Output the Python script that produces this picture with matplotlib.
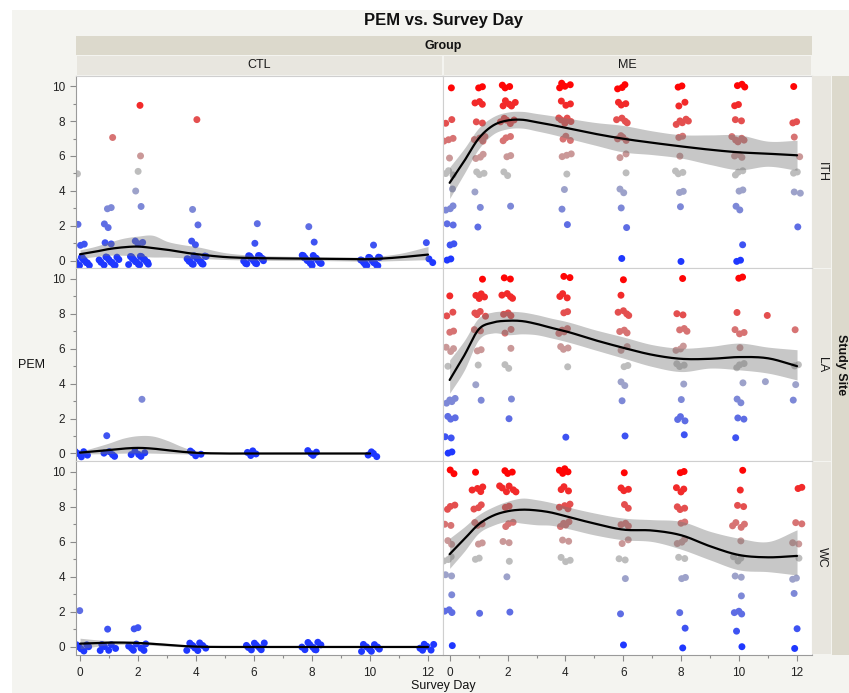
import numpy as np
import matplotlib
matplotlib.use("Agg")
import matplotlib.pyplot as plt
from matplotlib.patches import Rectangle
from matplotlib.ticker import MultipleLocator

plt.rcParams['font.family'] = ['Liberation Sans', 'DejaVu Sans']

# ---------------- data ----------------
survey_days = [0, 1, 2, 4, 6, 8, 10, 11, 12]
pem_levels = list(range(11))
groups = ["CTL", "ME"]
sites = ["ITH", "LA", "WC"]

# counts of participants at each PEM level (0..10), one row per survey day
ith_ctl_counts = [
    [14, 2, 1, 0, 0, 1, 0, 0, 0, 0, 0],
    [12, 2, 2, 2, 0, 0, 0, 1, 0, 0, 0],
    [16, 3, 0, 1, 1, 1, 1, 0, 0, 1, 0],
    [16, 2, 1, 1, 0, 0, 0, 0, 1, 0, 0],
    [16, 1, 1, 0, 0, 0, 0, 0, 0, 0, 0],
    [15, 1, 1, 0, 0, 0, 0, 0, 0, 0, 0],
    [16, 1, 0, 0, 0, 0, 0, 0, 0, 0, 0],
    [0, 0, 0, 0, 0, 0, 0, 0, 0, 0, 0],
    [2, 1, 0, 0, 0, 0, 0, 0, 0, 0, 0],
]
ith_me_counts = [
    [2, 2, 2, 3, 1, 3, 1, 3, 2, 0, 1],
    [0, 0, 1, 1, 1, 3, 3, 4, 2, 3, 2],
    [0, 0, 0, 1, 0, 2, 2, 3, 5, 5, 3],
    [0, 0, 1, 1, 1, 1, 3, 3, 5, 3, 4],
    [1, 0, 1, 1, 2, 1, 2, 4, 4, 3, 3],
    [1, 0, 0, 1, 2, 3, 1, 2, 5, 2, 2],
    [2, 1, 0, 2, 2, 3, 3, 5, 2, 2, 3],
    [0, 0, 0, 0, 0, 0, 0, 0, 0, 0, 0],
    [0, 0, 1, 0, 2, 2, 1, 1, 2, 0, 1],
]
la_ctl_counts = [
    [5, 0, 0, 0, 0, 0, 0, 0, 0, 0, 0],
    [4, 1, 0, 0, 0, 0, 0, 0, 0, 0, 0],
    [5, 0, 0, 1, 0, 0, 0, 0, 0, 0, 0],
    [4, 0, 0, 0, 0, 0, 0, 0, 0, 0, 0],
    [4, 0, 0, 0, 0, 0, 0, 0, 0, 0, 0],
    [4, 0, 0, 0, 0, 0, 0, 0, 0, 0, 0],
    [4, 0, 0, 0, 0, 0, 0, 0, 0, 0, 0],
    [0, 0, 0, 0, 0, 0, 0, 0, 0, 0, 0],
    [0, 0, 0, 0, 0, 0, 0, 0, 0, 0, 0],
]
la_me_counts = [
    [2, 2, 3, 4, 0, 1, 3, 2, 2, 1, 0],
    [0, 0, 0, 1, 1, 1, 2, 2, 4, 4, 1],
    [0, 0, 1, 1, 0, 2, 1, 2, 3, 4, 2],
    [0, 1, 0, 0, 0, 1, 3, 4, 2, 3, 2],
    [0, 1, 0, 1, 2, 2, 2, 3, 4, 1, 1],
    [0, 1, 3, 1, 1, 3, 3, 3, 2, 0, 1],
    [0, 1, 2, 2, 1, 3, 1, 3, 1, 0, 2],
    [0, 0, 0, 0, 1, 0, 0, 0, 1, 0, 0],
    [0, 0, 0, 1, 1, 2, 0, 1, 0, 0, 0],
]
wc_ctl_counts = [
    [7, 0, 1, 0, 0, 0, 0, 0, 0, 0, 0],
    [6, 1, 0, 0, 0, 0, 0, 0, 0, 0, 0],
    [7, 2, 0, 0, 0, 0, 0, 0, 0, 0, 0],
    [9, 0, 0, 0, 0, 0, 0, 0, 0, 0, 0],
    [8, 0, 0, 0, 0, 0, 0, 0, 0, 0, 0],
    [9, 0, 0, 0, 0, 0, 0, 0, 0, 0, 0],
    [8, 0, 0, 0, 0, 0, 0, 0, 0, 0, 0],
    [0, 0, 0, 0, 0, 0, 0, 0, 0, 0, 0],
    [6, 0, 0, 0, 0, 0, 0, 0, 0, 0, 0],
]
wc_me_counts = [
    [1, 0, 3, 1, 2, 3, 2, 2, 3, 0, 2],
    [0, 0, 1, 0, 0, 2, 2, 3, 3, 4, 1],
    [0, 0, 1, 0, 1, 1, 2, 3, 2, 6, 3],
    [0, 0, 0, 0, 0, 3, 2, 4, 4, 3, 4],
    [1, 0, 1, 0, 1, 2, 2, 3, 2, 3, 1],
    [1, 1, 1, 0, 2, 2, 3, 2, 3, 3, 2],
    [1, 1, 3, 1, 2, 3, 1, 4, 2, 1, 1],
    [0, 0, 0, 0, 0, 0, 0, 0, 0, 0, 0],
    [1, 1, 0, 1, 2, 1, 2, 2, 0, 2, 0],
]

# smoother fit and confidence band
curve_days = [0, 0.5, 1, 1.5, 2, 2.5, 3, 3.5, 4, 5, 6, 7, 8, 9, 10, 11, 12]
nan = float('nan')
ith_ctl_fit = [0.36, 0.5, 0.66, 0.76, 0.8, 0.72, 0.62, 0.48, 0.37, 0.2, 0.14, 0.12, 0.11, 0.09, 0.08, 0.18, 0.34]
ith_ctl_hi = [0.61, 0.8, 1.05, 1.28, 1.4, 1.45, 1.1, 0.92, 0.8, 0.45, 0.3, 0.25, 0.22, 0.2, 0.22, 0.4, 0.8]
ith_ctl_lo = [0.12, 0.22, 0.3, 0.3, 0.25, 0.2, 0.2, 0.16, 0.13, 0.06, 0.02, 0.0, 0.0, -0.02, -0.04, 0.0, 0.05]
ith_me_fit = [4.46, 5.7, 7.0, 7.75, 8.04, 8.08, 7.94, 7.79, 7.62, 7.28, 6.99, 6.76, 6.55, 6.36, 6.21, 6.13, 6.04]
ith_me_hi = [5.36, 6.42, 7.6, 8.25, 8.52, 8.56, 8.44, 8.32, 8.19, 7.93, 7.75, 7.44, 7.22, 7.21, 7.21, 6.85, 6.9]
ith_me_lo = [3.56, 4.98, 6.4, 7.25, 7.56, 7.6, 7.44, 7.26, 7.05, 6.63, 6.23, 6.08, 5.88, 5.51, 5.21, 5.41, 5.18]
la_ctl_fit = [0.05, 0.12, 0.2, 0.28, 0.32, 0.28, 0.19, 0.1, 0.04, 0.0, 0.0, 0.0, 0.0, 0.0, 0.0, nan, nan]
la_ctl_hi = [0.12, 0.35, 0.6, 0.88, 1.02, 1.0, 0.75, 0.4, 0.12, 0.02, 0.02, 0.02, 0.02, 0.02, 0.02, nan, nan]
la_ctl_lo = [-0.02, -0.02, 0.0, 0.02, 0.03, 0.02, 0.0, -0.02, -0.03, -0.02, -0.02, -0.02, -0.02, -0.02, -0.02, nan, nan]
la_me_fit = [4.21, 5.6, 7.1, 7.5, 7.6, 7.58, 7.42, 7.2, 7.0, 6.5, 6.05, 5.65, 5.42, 5.42, 5.52, 5.45, 5.0]
la_me_hi = [5.36, 6.45, 7.76, 8.1, 8.14, 8.1, 7.95, 7.75, 7.57, 7.09, 6.67, 6.23, 6.03, 6.13, 6.32, 6.09, 5.94]
la_me_lo = [3.45, 4.75, 6.51, 6.9, 6.8, 6.85, 6.8, 6.62, 6.42, 5.94, 5.46, 4.98, 4.69, 4.89, 4.79, 4.6, 4.21]
wc_ctl_fit = [0.19, 0.22, 0.25, 0.25, 0.23, 0.18, 0.12, 0.06, 0.02, 0.0, 0.0, 0.0, 0.0, 0.0, 0.0, 0.0, 0.0]
wc_ctl_hi = [0.5, 0.42, 0.36, 0.33, 0.32, 0.27, 0.2, 0.12, 0.06, 0.03, 0.03, 0.03, 0.03, 0.03, 0.03, 0.03, 0.03]
wc_ctl_lo = [-0.1, 0.02, 0.12, 0.15, 0.14, 0.1, 0.05, 0.01, -0.02, -0.03, -0.03, -0.03, -0.03, -0.03, -0.03, -0.03, -0.03]
wc_me_fit = [5.3, 6.15, 7.0, 7.5, 7.75, 7.84, 7.8, 7.68, 7.47, 7.05, 6.7, 6.65, 6.38, 5.75, 5.25, 5.12, 5.2]
wc_me_hi = [6.21, 6.85, 7.55, 8.0, 8.32, 8.5, 8.41, 8.25, 8.03, 7.65, 7.36, 7.27, 7.17, 6.6, 6.21, 6.02, 6.69]
wc_me_lo = [4.49, 5.45, 6.5, 6.95, 7.17, 7.07, 6.98, 6.95, 6.79, 6.4, 6.12, 6.02, 5.58, 4.97, 4.4, 4.3, 4.11]

panels = {
    ("ITH", "CTL"): (ith_ctl_counts, ith_ctl_fit, ith_ctl_lo, ith_ctl_hi),
    ("ITH", "ME"): (ith_me_counts, ith_me_fit, ith_me_lo, ith_me_hi),
    ("LA", "CTL"): (la_ctl_counts, la_ctl_fit, la_ctl_lo, la_ctl_hi),
    ("LA", "ME"): (la_me_counts, la_me_fit, la_me_lo, la_me_hi),
    ("WC", "CTL"): (wc_ctl_counts, wc_ctl_fit, wc_ctl_lo, wc_ctl_hi),
    ("WC", "ME"): (wc_me_counts, wc_me_fit, wc_me_lo, wc_me_hi),
}

# ---------------- helpers ----------------
W, H = 849, 693
fig = plt.figure(figsize=(W / 100, H / 100), dpi=100)
fig.patch.set_facecolor('white')


def rect(x0, y0, x1, y1):
    return [x0 / W, 1 - y1 / H, (x1 - x0) / W, (y1 - y0) / H]


def fig_box(x0, y0, x1, y1, color, z=0):
    fig.patches.append(Rectangle((x0 / W, 1 - y1 / H), (x1 - x0) / W, (y1 - y0) / H,
                                 transform=fig.transFigure, facecolor=color,
                                 edgecolor='none', zorder=z))


def ftext(x, y, s, **kw):
    fig.text(x / W, 1 - y / H, s, ha='center', va='center', **kw)


def pem_color(v):
    blue = np.array([0.12, 0.22, 1.0])
    gray = np.array([0.74, 0.74, 0.74])
    red = np.array([1.0, 0.02, 0.02])
    t = v / 10.0
    if t <= 0.5:
        return tuple(blue + (gray - blue) * (t / 0.5))
    return tuple(gray + (red - gray) * ((t - 0.5) / 0.5))


def frac(a):
    return a - np.floor(a)


def smooth(xs, ys, n=12):
    xs = np.asarray(xs, float)
    ys = np.asarray(ys, float)
    m = np.gradient(ys, xs)
    outx, outy = [], []
    for i in range(len(xs) - 1):
        h = xs[i + 1] - xs[i]
        t = np.linspace(0, 1, n, endpoint=False)
        h00 = 2 * t**3 - 3 * t**2 + 1
        h10 = t**3 - 2 * t**2 + t
        h01 = -2 * t**3 + 3 * t**2
        h11 = t**3 - t**2
        outx.extend(xs[i] + t * h)
        outy.extend(h00 * ys[i] + h10 * h * m[i] + h01 * ys[i + 1] + h11 * h * m[i + 1])
    outx.append(xs[-1])
    outy.append(ys[-1])
    return np.array(outx), np.array(outy)


# ---------------- background & strips ----------------
bg = '#f4f4f0'
strip_dark = '#dcd9cc'
strip_light = '#e8e6df'
fig_box(12, 10, W, H, bg, z=-10)

col_x = [(76, 442.5), (443, 811.5)]
row_y = [(75.5, 268), (268, 461), (461, 654.5)]
xlims = [(-0.14, 12.5), (-0.23, 12.5)]

fig_box(76, 36, 811.5, 54.5, strip_dark)
for (x0, x1), g in zip(col_x, groups):
    fig_box(x0 + 0.5, 55.5, x1 - 0.5, 75, strip_light)
    ftext((x0 + x1) / 2, 65.5, g, fontsize=9, color='#1a1a1a')
fig_box(831.5, 75.5, W, 654.5, strip_dark)
for (y0, y1), s in zip(row_y, sites):
    fig_box(812, y0 + 0.5, 831, y1 - 0.5, strip_light)
    ftext(822, (y0 + y1) / 2, s, fontsize=9, rotation=270, color='#1a1a1a')

ftext(443, 20, "PEM vs. Survey Day", fontsize=12, fontweight='bold', color='#111')
ftext(443, 45.5, "Group", fontsize=9, fontweight='bold', color='#111')
ftext(841, 365, "Study Site", fontsize=9, fontweight='bold', rotation=270, color='#111')
ftext(31, 365, "PEM", fontsize=9, color='#111')
ftext(443, 686, "Survey Day", fontsize=9, color='#111')

# ---------------- panels ----------------
for ri, site in enumerate(sites):
    for ci, grp in enumerate(groups):
        counts, fit, lo, hi = panels[(site, grp)]
        (x0, x1), (y0, y1) = col_x[ci], row_y[ri]
        ax = fig.add_axes(rect(x0, y0, x1, y1))
        ax.set_facecolor('white')
        ax.set_xlim(*xlims[ci])
        ax.set_ylim(-0.43, 10.62)

        xs, ys, cs = [], [], []
        for di, d in enumerate(survey_days):
            for lv in pem_levels:
                n = counts[di][lv]
                xj = min(0.36, 0.1 + 0.035 * n)
                yj = min(0.3, 0.1 + 0.02 * n)
                for j in range(n):
                    u = frac(0.6180339 * (j + 1) + 0.31 * lv + 0.17 * di + 0.11 * ri)
                    v = frac(0.7548777 * (j + 1) + 0.53 * lv + 0.29 * di + 0.07 * ci)
                    xs.append(d + xj * (2 * u - 1))
                    ys.append(lv + yj * (2 * v - 1))
                    cs.append(pem_color(lv))
        ax.scatter(xs, ys, s=25, c=cs, linewidths=0, zorder=2)

        cd = np.array(curve_days, float)
        f = np.array(fit, float)
        l = np.array(lo, float)
        h = np.array(hi, float)
        ok = ~np.isnan(f)
        sx, sf = smooth(cd[ok], f[ok])
        _, sl = smooth(cd[ok], l[ok])
        _, sh = smooth(cd[ok], h[ok])
        ax.fill_between(sx, sl, sh, color=(0.45, 0.45, 0.45), alpha=0.4, linewidth=0, zorder=3)
        ax.plot(sx, sf, color='black', lw=1.6, zorder=4, solid_capstyle='round')

        for sp in ax.spines.values():
            sp.set_color('#cfcfcf')
            sp.set_linewidth(0.8)

        ax.yaxis.set_major_locator(MultipleLocator(2))
        ax.yaxis.set_minor_locator(MultipleLocator(1))
        ax.xaxis.set_major_locator(MultipleLocator(2))
        ax.xaxis.set_minor_locator(MultipleLocator(1))
        if ci == 0:
            ax.spines['left'].set_color('#9a9a9a')
            ax.tick_params(axis='y', which='major', length=4, width=0.8, color='#8a8a8a',
                           labelsize=8.5, labelcolor='#222', pad=4)
            ax.tick_params(axis='y', which='minor', length=2.5, width=0.8, color='#8a8a8a')
        else:
            ax.tick_params(axis='y', which='both', left=False, labelleft=False)
        if ri == 2:
            ax.spines['bottom'].set_color('#9a9a9a')
            ax.tick_params(axis='x', which='major', length=4, width=0.8, color='#8a8a8a',
                           labelsize=8.5, labelcolor='#222', pad=5)
            ax.tick_params(axis='x', which='minor', length=2.5, width=0.8, color='#8a8a8a')
        else:
            ax.tick_params(axis='x', which='both', bottom=False, labelbottom=False)

fig.savefig("out.png", dpi=100, facecolor=fig.get_facecolor())
